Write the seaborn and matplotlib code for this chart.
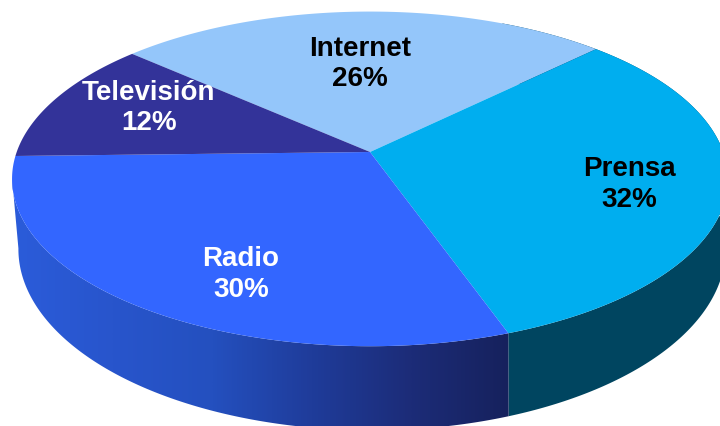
import numpy as np
import matplotlib
matplotlib.use("Agg")
import matplotlib.pyplot as plt
from matplotlib.patches import Polygon
import seaborn as sns

# Data
categories = ["Internet", "Prensa", "Radio", "Televisión"]
shares = [26, 32, 30, 12]
top_colors = ["#94C6FA", "#00AEEF", "#3366FF", "#333399"]
text_colors = ["black", "black", "white", "white"]
label_xy = [(360, 63), (629, 184), (241, 274), (149, 107)]

sns.set_theme(style="white")
plt.rcParams["font.family"] = ["Liberation Sans", "DejaVu Sans"]

W, H = 720, 427
fig = plt.figure(figsize=(W / 100, H / 100), dpi=100, facecolor="white")
ax = fig.add_axes([0, 0, 1, 1])

# Let the library work out the slice angles
wedges, _ = ax.pie(shares, startangle=138.2, counterclock=False)
angles = [(w.theta1, w.theta2) for w in wedges]
for w in wedges:
    w.remove()

K = 0.1607


def warp(theta, cx, cy, a, b):
    """Perspective projection of points of the unit circle onto the picture."""
    t = np.radians(theta)
    x, y = np.cos(t), np.sin(t)
    d = 1 + K * y
    return cx + a * x / d, cy - b * y / d


TOP = (370, 153, 353.3, 163.0)
BOTTOM = (372, 221, 349.0, 176.5)
LEFT_SILHOUETTE = -171  # angle at which the top face is widest on the left


def side_polygon(t1, t2):
    th = np.linspace(t1, t2, 200)
    xt, yt = warp(th, *TOP)
    xb, yb = warp(th, *BOTTOM)
    return np.column_stack([np.r_[xt, xb[::-1]], np.r_[yt, yb[::-1]]])


# Side wall: Prensa flat, Radio shaded with a horizontal gradient
ax.add_patch(Polygon(side_polygon(angles[1][0], angles[1][1] + 20), closed=True,
                     fc="#004560", ec="none", zorder=1))
radio_side = Polygon(side_polygon(LEFT_SILHOUETTE, angles[2][1]), closed=True,
                     fc="none", ec="none", transform=ax.transData, zorder=1)
ax.add_patch(radio_side)
side_cmap = sns.blend_palette(
    ["#2B5CDA", "#2855CC", "#2450BF", "#1F3C9A", "#1C2C78", "#16215C"], as_cmap=True)
gradient = np.linspace(0, 1, 512)[None, :]
img = ax.imshow(gradient, cmap=side_cmap, extent=(12, 512, H, 0), aspect="auto",
                zorder=1, interpolation="bilinear")
img.set_clip_path(radio_side)

# Top face
for (t1, t2), color in zip(angles, top_colors):
    th = np.linspace(t1, t2, 300)
    xs, ys = warp(th, *TOP)
    ax.fill(np.r_[TOP[0], xs], np.r_[TOP[1], ys], color=color, lw=0, zorder=2)

# Labels
for name, share, (x, y), tc in zip(categories, shares, label_xy, text_colors):
    ax.text(x, y + 1, f"{name}\n{share}%", ha="center", va="center", color=tc,
            fontsize=20, fontweight="bold", linespacing=1.25, zorder=3)

ax.set_xlim(0, W)
ax.set_ylim(H, 0)
ax.set_aspect("auto")
ax.set_axis_off()
fig.savefig("out.png", dpi=100, facecolor="white")
